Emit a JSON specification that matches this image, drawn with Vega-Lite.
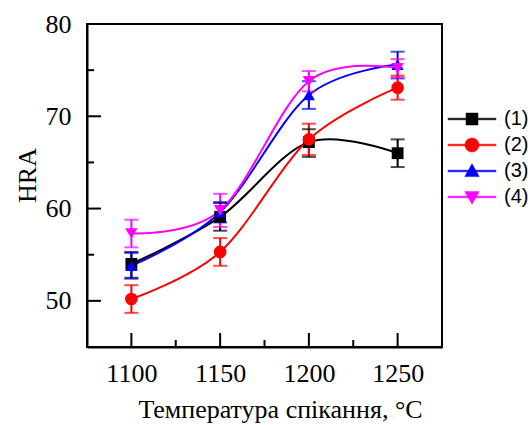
{
  "$schema": "https://vega.github.io/schema/vega-lite/v6.json",
  "width": 355,
  "height": 323,
  "autosize": "none",
  "padding": {"left": 87, "top": 24, "right": 86, "bottom": 78},
  "background": "white",
  "config": {
    "view": {"stroke": "black", "strokeWidth": 2},
    "axis": {
      "grid": false,
      "domainColor": "black",
      "domainWidth": 2,
      "tickColor": "black",
      "tickWidth": 2,
      "labelColor": "black",
      "labelFont": "Liberation Serif",
      "labelFontSize": 26,
      "titleFont": "Liberation Serif",
      "titleFontWeight": "normal",
      "titleColor": "black",
      "titleFontSize": 26
    }
  },
  "data": {
    "values": [
      {"series": "(1)", "T": 1100, "hra": 54.0, "lo": 52.5, "hi": 55.3},
      {"series": "(1)", "T": 1150, "hra": 59.1, "lo": 57.6, "hi": 60.6},
      {"series": "(1)", "T": 1200, "hra": 67.2, "lo": 65.6, "hi": 68.6},
      {"series": "(1)", "T": 1250, "hra": 66.0, "lo": 64.5, "hi": 67.5},
      {"series": "(2)", "T": 1100, "hra": 50.2, "lo": 48.7, "hi": 51.7},
      {"series": "(2)", "T": 1150, "hra": 55.3, "lo": 53.8, "hi": 56.8},
      {"series": "(2)", "T": 1200, "hra": 67.5, "lo": 65.8, "hi": 69.2},
      {"series": "(2)", "T": 1250, "hra": 73.1, "lo": 71.8, "hi": 74.4},
      {"series": "(3)", "T": 1100, "hra": 53.8, "lo": 52.4, "hi": 55.2},
      {"series": "(3)", "T": 1150, "hra": 59.6, "lo": 58.5, "hi": 60.7},
      {"series": "(3)", "T": 1200, "hra": 72.3, "lo": 70.8, "hi": 73.8},
      {"series": "(3)", "T": 1250, "hra": 75.6, "lo": 74.1, "hi": 77.0},
      {"series": "(4)", "T": 1100, "hra": 57.3, "lo": 55.8, "hi": 58.8},
      {"series": "(4)", "T": 1150, "hra": 59.8, "lo": 58.0, "hi": 61.6},
      {"series": "(4)", "T": 1200, "hra": 73.8, "lo": 72.7, "hi": 74.9},
      {"series": "(4)", "T": 1250, "hra": 75.2, "lo": 74.2, "hi": 76.2}
    ]
  },
  "encoding": {
    "color": {
      "field": "series",
      "type": "nominal",
      "scale": {"domain": ["(1)", "(2)", "(3)", "(4)"], "range": ["#000000", "#ff0000", "#0000ff", "#ff00ff"]},
      "legend": {
        "title": null,
        "orient": "none",
        "legendX": 375,
        "legendY": 85,
        "padding": 0,
        "symbolSize": 256,
        "symbolOpacity": 1,
        "symbolStrokeWidth": 0.5,
        "labelFont": "Liberation Sans",
        "labelFontSize": 20,
        "labelColor": "black",
        "labelOffset": 22,
        "rowPadding": 6
      }
    }
  },
  "layer": [
    {
      "mark": {"type": "line", "interpolate": "cardinal", "strokeWidth": 2},
      "encoding": {
        "x": {
          "field": "T",
          "type": "quantitative",
          "scale": {"domain": [1075, 1275], "nice": false, "zero": false},
          "axis": {
            "orient": "bottom",
            "values": [1100, 1150, 1200, 1250],
            "format": "d",
            "ticks": false,
            "labelPadding": 13,
            "title": "Температура спікання, °C",
            "titlePadding": 10,
            "titleX": 193
          }
        },
        "y": {
          "field": "hra",
          "type": "quantitative",
          "scale": {"domain": [45, 80], "nice": false, "zero": false},
          "axis": {
            "orient": "left",
            "values": [50, 60, 70, 80],
            "ticks": false,
            "labelPadding": 16,
            "title": "HRA",
            "titlePadding": 5,
            "titleY": 151
          }
        }
      }
    },
    {
      "data": {"values": [{"T": 1100}, {"T": 1150}, {"T": 1200}, {"T": 1250}]},
      "mark": {"type": "rule", "strokeWidth": 2, "y2Offset": -14},
      "encoding": {
        "x": {"field": "T", "type": "quantitative"},
        "y": {"datum": 45, "type": "quantitative"},
        "y2": {"datum": 45},
        "color": {"value": "black"}
      }
    },
    {
      "data": {"values": [{"T": 1125}, {"T": 1175}, {"T": 1225}]},
      "mark": {"type": "rule", "strokeWidth": 2, "y2Offset": -7},
      "encoding": {
        "x": {"field": "T", "type": "quantitative"},
        "y": {"datum": 45, "type": "quantitative"},
        "y2": {"datum": 45},
        "color": {"value": "black"}
      }
    },
    {
      "data": {"values": [{"V": 50}, {"V": 60}, {"V": 70}, {"V": 80}]},
      "mark": {"type": "rule", "strokeWidth": 2, "x2Offset": 14},
      "encoding": {
        "y": {"field": "V", "type": "quantitative"},
        "x": {"datum": 1075, "type": "quantitative"},
        "x2": {"datum": 1075},
        "color": {"value": "black"}
      }
    },
    {
      "data": {"values": [{"V": 55}, {"V": 65}, {"V": 75}]},
      "mark": {"type": "rule", "strokeWidth": 2, "x2Offset": 7},
      "encoding": {
        "y": {"field": "V", "type": "quantitative"},
        "x": {"datum": 1075, "type": "quantitative"},
        "x2": {"datum": 1075},
        "color": {"value": "black"}
      }
    },
    {
      "mark": {"type": "rule", "strokeWidth": 2},
      "encoding": {
        "x": {"field": "T", "type": "quantitative"},
        "y": {"field": "lo", "type": "quantitative"},
        "y2": {"field": "hi"}
      }
    },
    {
      "mark": {"type": "tick", "orient": "horizontal", "size": 14, "thickness": 2},
      "encoding": {
        "x": {"field": "T", "type": "quantitative"},
        "y": {"field": "lo", "type": "quantitative"}
      }
    },
    {
      "mark": {"type": "tick", "orient": "horizontal", "size": 14, "thickness": 2},
      "encoding": {
        "x": {"field": "T", "type": "quantitative"},
        "y": {"field": "hi", "type": "quantitative"}
      }
    },
    {
      "mark": {"type": "point", "filled": true, "opacity": 0, "size": 150},
      "encoding": {
        "x": {"field": "T", "type": "quantitative"},
        "y": {"field": "hra", "type": "quantitative"},
        "shape": {
          "field": "series",
          "type": "nominal",
          "scale": {
            "domain": ["(1)", "(2)", "(3)", "(4)"],
            "range": [
              "M-3,-0.1H3V0.1H-3ZM-0.75,-0.75H0.75V0.75H-0.75Z",
              "M-3,-0.1H3V0.1H-3ZM-0.875,0A0.875,0.875,0,1,1,0.875,0A0.875,0.875,0,1,1,-0.875,0Z",
              "M-3,-0.1H3V0.1H-3ZM0,-0.9L0.9,0.7L-0.9,0.7Z",
              "M-3,-0.1H3V0.1H-3ZM0,0.9L-0.9,-0.7L0.9,-0.7Z"
            ]
          },
          "legend": {
            "title": null,
            "orient": "none",
            "legendX": 375,
            "legendY": 85,
            "padding": 0,
            "symbolSize": 256,
            "symbolOpacity": 1,
            "symbolStrokeWidth": 0.5,
            "labelFont": "Liberation Sans",
            "labelFontSize": 20,
            "labelColor": "black",
            "labelOffset": 22,
            "rowPadding": 6
          }
        }
      }
    },
    {
      "transform": [{"filter": "datum.series === '(1)'"}],
      "mark": {"type": "point", "shape": "square", "filled": true, "opacity": 1, "size": 140},
      "encoding": {
        "x": {"field": "T", "type": "quantitative"},
        "y": {"field": "hra", "type": "quantitative"}
      }
    },
    {
      "transform": [{"filter": "datum.series === '(2)'"}],
      "mark": {"type": "point", "shape": "circle", "filled": true, "opacity": 1, "size": 160},
      "encoding": {
        "x": {"field": "T", "type": "quantitative"},
        "y": {"field": "hra", "type": "quantitative"}
      }
    },
    {
      "transform": [{"filter": "datum.series === '(3)'"}],
      "mark": {"type": "point", "shape": "triangle-up", "filled": true, "opacity": 1, "size": 150},
      "encoding": {
        "x": {"field": "T", "type": "quantitative"},
        "y": {"field": "hra", "type": "quantitative"}
      }
    },
    {
      "transform": [{"filter": "datum.series === '(4)'"}],
      "mark": {"type": "point", "shape": "triangle-down", "filled": true, "opacity": 1, "size": 150},
      "encoding": {
        "x": {"field": "T", "type": "quantitative"},
        "y": {"field": "hra", "type": "quantitative"}
      }
    }
  ]
}
